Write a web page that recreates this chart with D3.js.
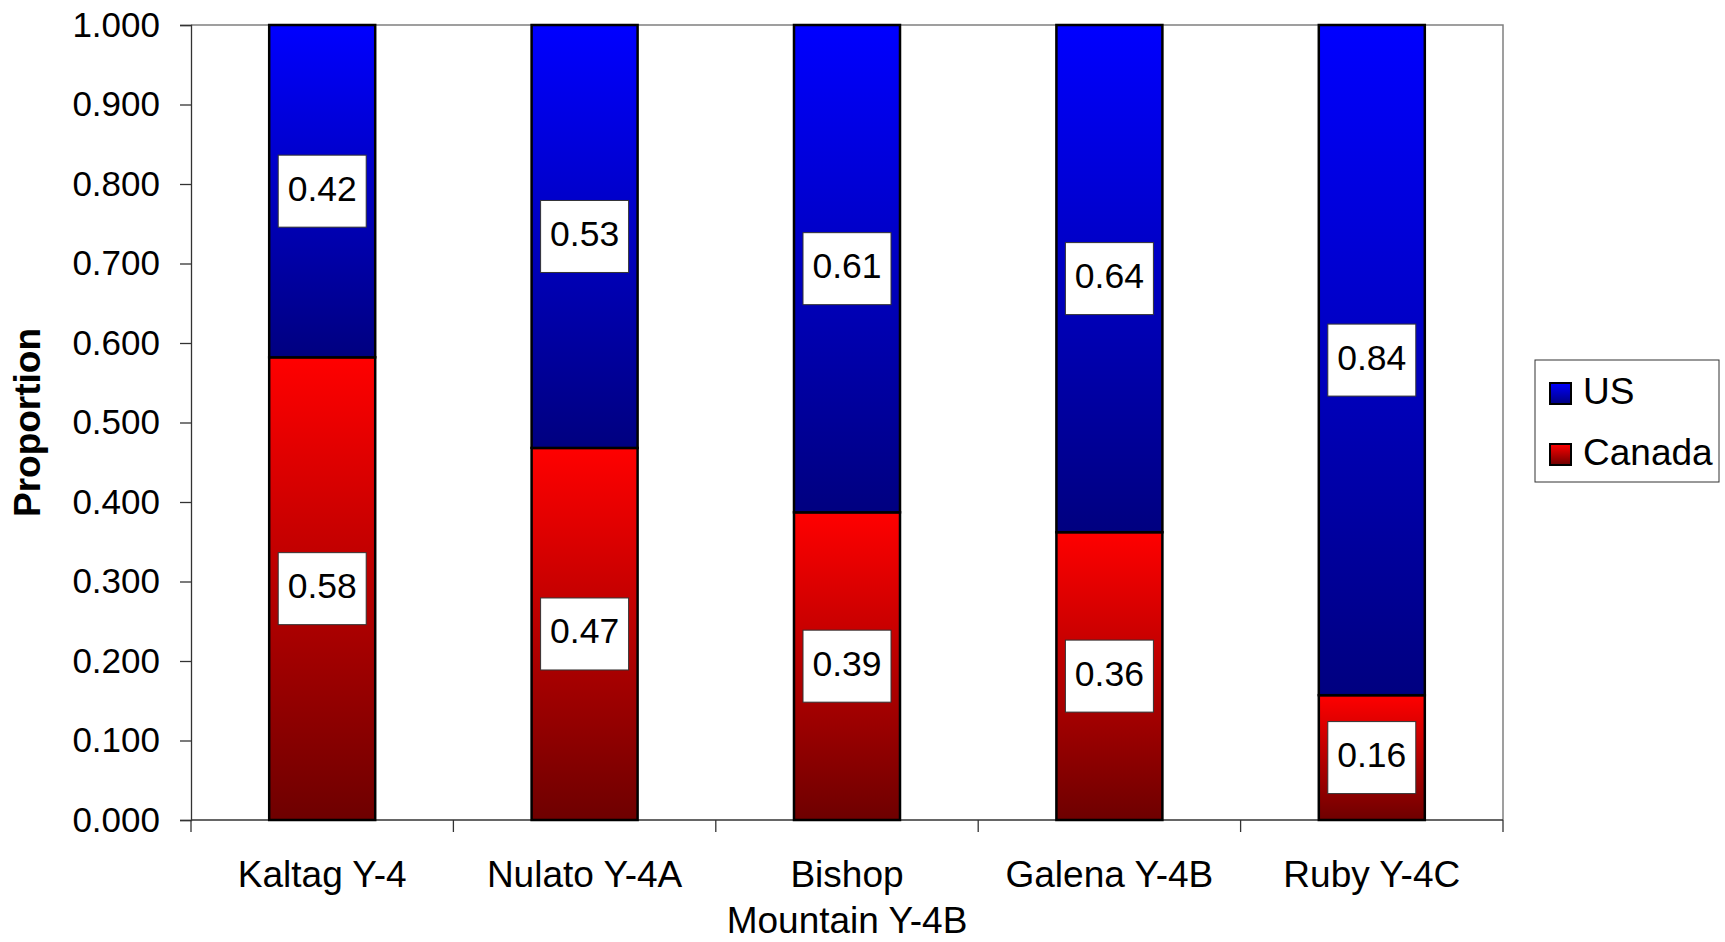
<!DOCTYPE html>
<html>
<head>
<meta charset="utf-8">
<script src="https://cdn.jsdelivr.net/npm/d3@7"></script>
<style>
  body { margin: 0; background: #fff; }
  svg { font-family: "Liberation Sans", Arial, sans-serif; }
</style>
</head>
<body>
<div class="chart"></div>
<script>
const w = 1725;
const h = 942;

// data
const sites = ["Kaltag Y-4", "Nulato Y-4A", "Bishop Mountain Y-4B", "Galena Y-4B", "Ruby Y-4C"];
const siteLines = [["Kaltag Y-4"], ["Nulato Y-4A"], ["Bishop", "Mountain Y-4B"], ["Galena Y-4B"], ["Ruby Y-4C"]];
const canada = [0.582, 0.468, 0.387, 0.362, 0.157];
const us = [0.418, 0.532, 0.613, 0.638, 0.843];
const yTicks = [0, 0.1, 0.2, 0.3, 0.4, 0.5, 0.6, 0.7, 0.8, 0.9, 1.0];
const seriesNames = ["US", "Canada"];

const plot = { left: 191, top: 25, right: 1503, bottom: 820 };

const svg = d3
  .select(".chart")
  .append("svg")
  .attr("width", w)
  .attr("height", h);

// gradients
const defs = svg.append("defs");
const grads = [
  { id: "gradUS", top: "#0000ff", bottom: "#000080" },
  { id: "gradCA", top: "#ff0000", bottom: "#6e0000" },
];
grads.forEach((g) => {
  const lg = defs
    .append("linearGradient")
    .attr("id", g.id)
    .attr("x1", 0)
    .attr("y1", 0)
    .attr("x2", 0)
    .attr("y2", 1);
  lg.append("stop").attr("offset", "0%").attr("stop-color", g.top);
  lg.append("stop").attr("offset", "100%").attr("stop-color", g.bottom);
});

const x = d3
  .scaleBand()
  .domain(sites)
  .range([plot.left, plot.right])
  .paddingInner(0.596)
  .paddingOuter(0.298);

const y = d3.scaleLinear().domain([0, 1]).range([plot.bottom, plot.top]);

// plot frame (top and right in grey)
svg
  .append("path")
  .attr("d", `M${plot.left},${plot.top}H${plot.right}V${plot.bottom}`)
  .attr("fill", "none")
  .attr("stroke", "#808080")
  .attr("stroke-width", 1.5);

// y axis
const yAxis = d3
  .axisLeft(y)
  .tickValues(yTicks)
  .tickFormat(d3.format(".3f"))
  .tickSize(11)
  .tickPadding(20);

const gy = svg
  .append("g")
  .attr("transform", `translate(${plot.left},0)`)
  .call(yAxis);
gy.select(".domain").attr("stroke", "#333").attr("stroke-width", 1.3);
gy.selectAll(".tick line").attr("stroke", "#333").attr("stroke-width", 1.3);
gy.selectAll(".tick text")
  .attr("font-size", "35px")
  .attr("font-family", "Liberation Sans, Arial, sans-serif")
  .attr("fill", "#000");

// x axis: baseline + ticks at category boundaries
const step = x.step();
const boundaries = d3.range(sites.length + 1).map((i) => plot.left + i * step);
svg
  .append("line")
  .attr("x1", plot.left)
  .attr("x2", plot.right)
  .attr("y1", plot.bottom)
  .attr("y2", plot.bottom)
  .attr("stroke", "#333")
  .attr("stroke-width", 1.3);
svg
  .selectAll(".xtick")
  .data(boundaries)
  .enter()
  .append("line")
  .attr("class", "xtick")
  .attr("x1", (d) => d)
  .attr("x2", (d) => d)
  .attr("y1", plot.bottom)
  .attr("y2", plot.bottom + 12)
  .attr("stroke", "#333")
  .attr("stroke-width", 1.3);

const xl = svg
  .selectAll(".xlabel")
  .data(sites)
  .enter()
  .append("text")
  .attr("class", "xlabel")
  .attr("text-anchor", "middle")
  .attr("font-size", "37px")
  .attr("fill", "#000");
xl.selectAll("tspan")
  .data((d, i) => siteLines[i].map((t) => ({ t, c: d })))
  .enter()
  .append("tspan")
  .attr("x", (d) => x(d.c) + x.bandwidth() / 2)
  .attr("y", (d, i) => 887 + i * 46)
  .text((d) => d.t);

// y axis title
svg
  .append("text")
  .attr("transform", `translate(40,${(plot.top + plot.bottom) / 2}) rotate(-90)`)
  .attr("text-anchor", "middle")
  .attr("font-size", "37px")
  .attr("font-weight", "bold")
  .attr("fill", "#000")
  .text("Proportion");

// stacked bars
const rows = sites.map((s, i) => ({ site: s, Canada: canada[i], US: us[i] }));
const stack = d3.stack().keys(["Canada", "US"])(rows);
const fillFor = { Canada: "url(#gradCA)", US: "url(#gradUS)" };

const layers = svg
  .selectAll(".layer")
  .data(stack)
  .enter()
  .append("g")
  .attr("class", "layer")
  .attr("fill", (d) => fillFor[d.key]);

layers
  .selectAll("rect")
  .data((d) => d)
  .enter()
  .append("rect")
  .attr("x", (d) => x(d.data.site))
  .attr("y", (d) => y(d[1]))
  .attr("width", x.bandwidth())
  .attr("height", (d) => y(d[0]) - y(d[1]))
  .attr("stroke", "#000")
  .attr("stroke-width", 2.5);

// value labels
const labels = [];
stack.forEach((layer) => {
  layer.forEach((d) => {
    labels.push({
      site: d.data.site,
      v: d[1] - d[0],
      mid: (y(d[0]) + y(d[1])) / 2,
    });
  });
});

const lab = svg
  .selectAll(".vlabel")
  .data(labels)
  .enter()
  .append("g")
  .attr("class", "vlabel")
  .attr("transform", (d) => `translate(${x(d.site) + x.bandwidth() / 2},${d.mid})`);

lab
  .append("rect")
  .attr("x", -44)
  .attr("y", -36)
  .attr("width", 88)
  .attr("height", 72)
  .attr("fill", "#fff")
  .attr("stroke", "#333")
  .attr("stroke-width", 1);

lab
  .append("text")
  .attr("text-anchor", "middle")
  .attr("y", 9.5)
  .attr("font-size", "35.5px")
  .attr("fill", "#000")
  .text((d) => d3.format(".2f")(d.v));

// legend
const legend = svg.append("g").attr("id", "legend");
legend
  .append("rect")
  .attr("x", 1535)
  .attr("y", 360)
  .attr("width", 184)
  .attr("height", 122)
  .attr("fill", "#fff")
  .attr("stroke", "#333")
  .attr("stroke-width", 1);

const legFill = { US: "url(#gradUS)", Canada: "url(#gradCA)" };
legend
  .selectAll(".legend-item")
  .data(seriesNames)
  .enter()
  .append("rect")
  .attr("class", "legend-item")
  .attr("x", 1550)
  .attr("y", (d, i) => 383 + i * 61)
  .attr("width", 21)
  .attr("height", 21)
  .attr("fill", (d) => legFill[d])
  .attr("stroke", "#000")
  .attr("stroke-width", 2);

legend
  .selectAll(".legend-label")
  .data(seriesNames)
  .enter()
  .append("text")
  .attr("class", "legend-label")
  .attr("x", 1583)
  .attr("y", (d, i) => 404 + i * 61)
  .attr("font-size", "37px")
  .attr("fill", "#000")
  .text((d) => d);
</script>
</body>
</html>
